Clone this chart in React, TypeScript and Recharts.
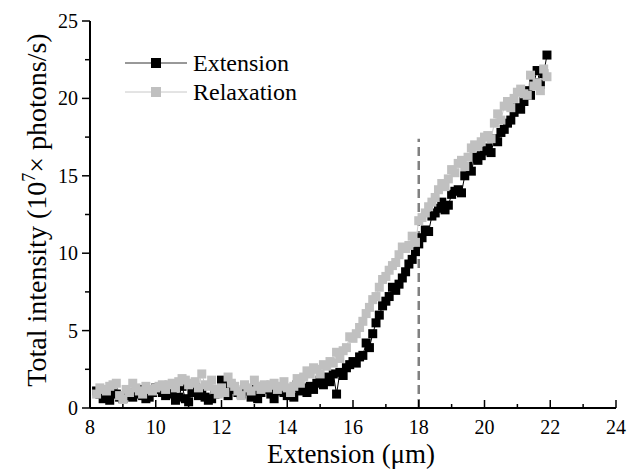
import React from 'react';
import { LineChart, Line, XAxis, YAxis, Legend, ReferenceLine } from 'recharts';

const extensionX = [
  8.2, 8.3, 8.4, 8.5, 8.6, 8.7, 8.8, 8.9, 9.0,
  9.1, 9.2, 9.3, 9.4, 9.5, 9.6, 9.7, 9.8, 9.9, 10.0,
  10.1, 10.2, 10.3, 10.4, 10.5, 10.6, 10.7, 10.8, 10.9, 11.0,
  11.1, 11.2, 11.3, 11.4, 11.5, 11.6, 11.7, 11.8, 11.9, 12.0,
  12.1, 12.2, 12.3, 12.4, 12.5, 12.6, 12.7, 12.8, 12.9, 13.0,
  13.1, 13.2, 13.3, 13.4, 13.5, 13.6, 13.7, 13.8, 13.9, 14.0,
  14.1, 14.2, 14.3, 14.4, 14.5, 14.6, 14.7, 14.8, 14.9, 15.0,
  15.1, 15.2, 15.3, 15.4, 15.5, 15.6, 15.7, 15.8, 15.9, 16.0,
  16.1, 16.2, 16.3, 16.4, 16.5, 16.6, 16.7, 16.8, 16.9, 17.0,
  17.1, 17.2, 17.3, 17.4, 17.5, 17.6, 17.7, 17.8, 17.9, 18.0,
  18.1, 18.2, 18.3, 18.4, 18.5, 18.6, 18.7, 18.8, 18.9, 19.0,
  19.1, 19.2, 19.3, 19.4, 19.5, 19.6, 19.7, 19.8, 19.9, 20.0,
  20.1, 20.2, 20.3, 20.4, 20.5, 20.6, 20.7, 20.8, 20.9, 21.0,
  21.1, 21.2, 21.3, 21.4, 21.5, 21.6, 21.7, 21.8, 21.9,
];

const extensionY = [
  1.1, 0.9, 0.6, 0.8, 0.5, 1.0, 0.9, 0.7, 0.6,
  0.8, 1.0, 0.7, 0.9, 1.2, 0.8, 0.6, 0.7, 1.0, 1.3,
  1.2, 1.0, 0.8, 1.1, 0.9, 0.5, 0.7, 1.4, 0.6, 0.4,
  1.0, 1.3, 0.8, 1.1, 0.7, 0.5, 0.6, 0.9, 1.2, 1.8,
  1.5, 0.8, 1.4, 1.2, 1.0, 0.9, 1.3, 1.1, 0.7, 1.2,
  0.6, 1.0, 1.4, 1.2, 0.9, 0.6, 1.1, 1.3, 1.0, 0.8,
  1.2, 0.7, 1.5, 1.1, 1.3, 1.0, 1.4, 1.2, 1.6, 1.8,
  1.5, 2.0, 1.7, 2.2, 0.9, 2.3, 2.1, 2.6, 2.8, 3.0,
  2.9, 3.3, 3.4, 4.2, 3.9, 4.8, 5.5, 6.0, 6.6, 6.9,
  7.2, 7.8, 7.6, 8.0, 8.4, 8.8, 9.3, 9.6, 10.1, 10.6,
  11.0, 11.5, 11.4, 12.4, 12.6, 12.9, 13.3, 12.8, 13.1, 13.8,
  14.0, 14.1, 13.9, 15.0, 15.6, 15.3, 16.2, 16.0, 16.3, 16.6,
  16.8, 16.5, 17.4, 17.2, 17.8, 18.0, 18.4, 18.6, 19.1, 19.4,
  19.3, 19.8, 20.5, 20.2, 21.0, 21.8, 20.9, 21.6, 22.8,
];

const relaxationY = [
  0.9, 1.3, 1.2, 1.1, 1.4, 1.5, 1.6, 0.8, 0.6,
  1.2, 1.0, 1.6, 1.3, 1.1, 0.9, 1.4, 1.2, 1.1, 1.3,
  1.4, 1.5, 1.2, 1.5, 1.6, 1.3, 1.7, 1.9, 1.8, 1.5,
  1.6, 1.7, 1.3, 2.2, 1.5, 1.4, 1.8, 1.2, 0.9, 1.3,
  1.0, 2.0, 1.6, 1.4, 1.1, 0.8, 1.5, 1.3, 1.1, 1.8,
  1.4, 1.2, 1.5, 1.3, 1.5, 1.6, 1.2, 1.4, 1.7, 1.3,
  1.0, 1.4, 1.9, 1.6, 2.0, 2.4, 2.2, 2.6, 2.5, 2.2,
  2.8, 2.7, 3.0, 2.9, 3.6, 3.2, 3.7, 3.9, 4.6, 4.5,
  4.8, 5.2, 5.6, 6.1, 6.5, 7.0, 7.2, 7.8, 8.3, 8.5,
  8.9, 9.2, 9.4, 9.9, 10.4, 10.3, 10.5, 11.1, 10.7, 12.1,
  12.3, 12.6, 13.0, 13.3, 13.6, 14.1, 14.5, 14.3, 14.8, 15.4,
  15.2, 15.8, 16.0, 15.6, 16.2, 16.8, 17.0, 16.9, 17.2, 17.5,
  17.6, 17.4, 18.4, 19.0, 18.6, 19.5, 19.8, 19.4, 20.0, 20.4,
  20.6, 20.3, 20.2, 21.5, 20.8, 21.0, 20.5, 21.9, 21.4,
];

const xTicks = [8, 9, 10, 11, 12, 13, 14, 15, 16, 17, 18, 19, 20, 21, 22, 23, 24];
const xLabelTicks = [8, 10, 12, 14, 16, 18, 20, 22, 24];
const yTicks = [0, 2.5, 5, 7.5, 10, 12.5, 15, 17.5, 20, 22.5, 25];
const yLabelTicks = [0, 5, 10, 15, 20, 25];
const markerX = 18;
const markerTop = 17.4;

const data = extensionX.map((x, i) => ({ x, ext: extensionY[i], rel: relaxationY[i] }));

const FONT = "'Liberation Serif', 'DejaVu Serif', serif";
const AXIS = '#000';
const txt = (size: number) => ({ fontFamily: FONT, fontSize: size });

const Square = (color: string, size: number) => (props: any) => {
  const { cx, cy, index } = props;
  if (cx == null || cy == null) return <g key={index} />;
  return <rect key={index} x={cx - size / 2} y={cy - size / 2} width={size} height={size} fill={color} />;
};

const BottomTick = (props: any) => {
  const { x, y, payload } = props;
  const major = xLabelTicks.includes(payload.value);
  return (
    <g>
      <line x1={x} y1={y} x2={x} y2={y - (major ? 8 : 4)} stroke={AXIS} strokeWidth={1.5} />
      {major && (
        <text x={x} y={y + 26} textAnchor="middle" style={txt(20)} fill="#000">
          {payload.value}
        </text>
      )}
    </g>
  );
};

const TopTick = (props: any) => {
  const { x, y, payload } = props;
  const major = xLabelTicks.includes(payload.value);
  return <line x1={x} y1={y} x2={x} y2={y + (major ? 8 : 4)} stroke={AXIS} strokeWidth={1.5} />;
};

const LeftTick = (props: any) => {
  const { x, y, payload } = props;
  const major = yLabelTicks.includes(payload.value);
  return (
    <g>
      <line x1={x} y1={y} x2={x - (major ? 8 : 5)} y2={y} stroke={AXIS} strokeWidth={1.5} />
      {major && (
        <text x={x - 12} y={y + 7} textAnchor="end" style={txt(20)} fill="#000">
          {payload.value}
        </text>
      )}
    </g>
  );
};

const RightTick = (props: any) => {
  const { x, y, payload } = props;
  const major = yLabelTicks.includes(payload.value);
  return <line x1={x} y1={y} x2={x - (major ? 8 : 5)} y2={y} stroke={AXIS} strokeWidth={1.5} />;
};

const LegendContent = (props: any) => {
  const items = [
    { name: 'Extension', line: '#333', fill: '#000' },
    { name: 'Relaxation', line: '#c8c8c8', fill: '#c0c0c0' },
  ];
  return (
    <svg width={220} height={70} style={{ display: 'block' }}>
      {items.map((it, i) => {
        const cy = 18 + i * 29;
        return (
          <g key={it.name}>
            <line x1={5} y1={cy} x2={67} y2={cy} stroke={it.line} strokeWidth={1} />
            <rect x={31} y={cy - 5} width={10} height={10} fill={it.fill} />
            <text x={73} y={cy + 8} style={txt(24)} fill="#000">
              {it.name}
            </text>
          </g>
        );
      })}
    </svg>
  );
};

const YTitle = (props: any) => {
  const cx = 46;
  const cy = 210;
  return (
    <text
      x={cx}
      y={cy}
      transform={`rotate(-90, ${cx}, ${cy})`}
      textAnchor="middle"
      style={txt(28)}
      fill="#000"
    >
      Total intensity (10
      <tspan style={{ fontSize: 18 }} dy={-11}>7</tspan>
      <tspan dy={11}>× photons/s)</tspan>
    </text>
  );
};

const XTitle = (props: any) => (
  <text x={351} y={463} textAnchor="middle" style={txt(27)} fill="#000">
    Extension (μm)
  </text>
);

export default function App() {
  return (
    <div style={{ position: 'absolute', left: 0, top: 0, width: 631, height: 469, background: '#fff', fontFamily: FONT }}>
      <LineChart width={631} height={469} data={data} margin={{ top: 21, right: 15, bottom: 0, left: 0 }}>
        <XAxis
          dataKey="x"
          type="number"
          domain={[8, 24]}
          ticks={xTicks}
          interval={0}
          height={61}
          tickSize={0}
          tickMargin={0}
          tickLine={false}
          axisLine={{ stroke: AXIS, strokeWidth: 2 }}
          tick={<BottomTick />}
          label={<XTitle />}
        />
        <XAxis
          xAxisId="top"
          dataKey="x"
          type="number"
          orientation="top"
          domain={[8, 24]}
          ticks={xTicks}
          interval={0}
          height={0}
          tickSize={0}
          tickMargin={0}
          tickLine={false}
          axisLine={{ stroke: AXIS, strokeWidth: 2 }}
          tick={<TopTick />}
        />
        <YAxis
          type="number"
          domain={[0, 25]}
          ticks={yTicks}
          interval={0}
          width={90}
          tickSize={0}
          tickMargin={0}
          tickLine={false}
          axisLine={{ stroke: AXIS, strokeWidth: 2 }}
          tick={<LeftTick />}
          label={<YTitle />}
        />
        <YAxis
          yAxisId="right"
          orientation="right"
          type="number"
          domain={[0, 25]}
          ticks={yTicks}
          interval={0}
          width={0}
          tickSize={0}
          tickMargin={0}
          tickLine={false}
          axisLine={{ stroke: AXIS, strokeWidth: 2 }}
          tick={<RightTick />}
        />
        <Legend
          layout="vertical"
          align="center"
          verticalAlign="middle"
          wrapperStyle={{ left: 120, top: 45, width: 220, height: 70 }}
          content={<LegendContent />}
        />
        <ReferenceLine
          segment={[{ x: markerX, y: 0 }, { x: markerX, y: markerTop }]}
          stroke="#808080"
          strokeWidth={2.5}
          strokeDasharray="9 5"
        />
        <Line
          dataKey="ext"
          name="Extension"
          stroke="#000"
          strokeWidth={1}
          dot={Square('#000', 9)}
          activeDot={false}
          isAnimationActive={false}
        />
        <Line
          dataKey="rel"
          name="Relaxation"
          stroke="#c8c8c8"
          strokeWidth={1}
          dot={Square('#c0c0c0', 9)}
          activeDot={false}
          isAnimationActive={false}
        />
      </LineChart>
    </div>
  );
}
